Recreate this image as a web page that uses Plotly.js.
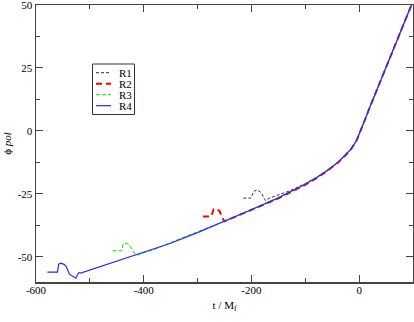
<!DOCTYPE html>
<html>
<head>
<meta charset="utf-8">
<script src="https://cdn.plot.ly/plotly-3.0.1.min.js"></script>
<style>
  body { margin: 0; background: #fff; }
  #plot { width: 414px; height: 322px; }
</style>
</head>
<body>
<div id="plot"></div>
<script>
// values
var seriesNames = ['R1', 'R2', 'R3', 'R4'];

var r1X = [-215, -201, -196, -190, -182, -178, -174, -167, -130, -100, -80, -60, -40, -25, -15, -5, 0, 5, 10, 20, 40, 60, 80, 100];
var r1Y = [-26.7, -26.7, -24.1, -23.4, -24.5, -26.0, -27.7, -26.7, -23.9, -20.9, -18.5, -15.7, -12.5, -9.6, -7.2, -3.9, -1.5, 1.2, 4.0, 9.5, 20, 30.5, 41, 51.5];

var r2X = [-290, -275, -270, -264, -259, -254, -250, -200, -150, -100, -80, -60, -40, -25, -15, -5, 0, 5, 10, 20, 40, 60, 80, 100];
var r2Y = [-34, -34, -31.1, -31.1, -31.9, -34.6, -35.9, -31.4, -26.8, -21.4, -18.9, -16.0, -12.7, -9.7, -7.2, -3.9, -1.5, 1.2, 4.0, 9.5, 20, 30.5, 41, 51.5];

var r3X = [-458, -441, -438, -433, -427, -421, -415, -412, -396, -378, -350, -300, -250, -200, -150, -100, -80, -60, -40, -25, -15, -5, 0, 5, 10, 20, 40, 60, 80, 100];
var r3Y = [-47.6, -47.6, -44.8, -44.6, -45.2, -47.3, -49.2, -49.3, -48.3, -46.9, -44.3, -40.2, -35.8, -31.1, -26.5, -21.1, -18.6, -15.8, -12.6, -9.6, -7.2, -3.9, -1.5, 1.2, 4.0, 9.5, 20, 30.5, 41, 51.5];

var r4X = [-579, -560, -558, -554, -548, -544, -538, -532, -526, -523, -520, -517, -500, -450, -400, -350, -300, -250, -200, -150, -100, -80, -60, -40, -25, -15, -5, 0, 5, 10, 20, 40, 60, 80, 100];
var r4Y = [-56.1, -56.1, -52.9, -52.5, -53.0, -53.8, -56.9, -57.8, -58.5, -57.1, -56.2, -56.5, -55.3, -51.8, -48.4, -44.6, -40.4, -36.0, -31.3, -26.6, -21.2, -18.7, -15.9, -12.6, -9.6, -7.2, -3.9, -1.5, 1.2, 4.0, 9.5, 20.0, 30.5, 41.0, 51.5];

var xTickVals = [-600, -400, -200, 0];
var xTickText = ['-600', '-400', '-200', '0'];
var yTickVals = [-50, -25, 0, 25, 50];
var yTickText = ['-50', '-25', '0', '25', '50'];

var fontFam = 'Liberation Serif';
var lineStyles = [
  { color: '#333333', width: 1, dash: '3px,2px' },
  { color: 'rgb(255,0,0)', width: 2, dash: '6px,4px' },
  { color: 'rgb(0,230,0)', width: 1, dash: '4px,2px' },
  { color: 'rgb(40,40,255)', width: 1.2 }
];

var xs = [r1X, r2X, r3X, r4X];
var ys = [r1Y, r2Y, r3Y, r4Y];
var data = seriesNames.map(function (n, i) {
  return { x: xs[i], y: ys[i], mode: 'lines', name: n, line: lineStyles[i] };
});

// plot-area geometry, used to place the hand-drawn legend box
var W = 414, H = 322, M = { l: 36, r: 1, t: 5, b: 40 };
var pw = W - M.l - M.r, ph = H - M.t - M.b;
function px(x) { return (x - M.l) / pw; }
function py(y) { return 1 - (y - M.t) / ph; }

var shapes = [{
  type: 'rect', xref: 'paper', yref: 'paper',
  x0: px(92.5), x1: px(134.5), y0: py(64), y1: py(114.5),
  line: { color: '#333', width: 1 }, fillcolor: '#fff', layer: 'above'
}];
var annotations = [];
var rowY = [72.7, 83.7, 94.7, 105.7];
seriesNames.forEach(function (n, i) {
  var st = lineStyles[i];
  shapes.push({
    type: 'line', xref: 'paper', yref: 'paper',
    x0: px(96), x1: px(111), y0: py(rowY[i]), y1: py(rowY[i]),
    line: { color: st.color, width: st.width, dash: st.dash || 'solid' }, layer: 'above'
  });
  annotations.push({
    xref: 'paper', yref: 'paper', x: px(117), y: py(rowY[i]),
    xanchor: 'left', yanchor: 'middle', showarrow: false, text: n,
    font: { family: fontFam, size: 11, color: '#000' }
  });
});

var axisCommon = {
  showgrid: false,
  zeroline: false,
  showline: true,
  linecolor: '#444',
  linewidth: 1.5,
  mirror: 'allticks',
  ticks: 'inside',
  ticklen: 7,
  tickwidth: 1,
  tickcolor: '#444',
  ticklabeloverflow: 'allow',
  tickmode: 'array'
};

var layout = {
  width: W,
  height: H,
  margin: M,
  paper_bgcolor: '#fff',
  plot_bgcolor: '#fff',
  font: { family: fontFam, size: 11, color: '#000' },
  showlegend: false,
  shapes: shapes,
  annotations: annotations,
  xaxis: Object.assign({}, axisCommon, {
    range: [-600, 100],
    tickvals: xTickVals, ticktext: xTickText,
    tickfont: { family: fontFam, size: 11, color: '#000' },
    ticklabelstandoff: -3,
    minor: { dtick: 100, ticks: 'inside', ticklen: 4, tickcolor: '#444' },
    title: { text: 't / M<sub>f</sub>', font: { family: fontFam, size: 11, color: '#000' }, standoff: 6 }
  }),
  yaxis: Object.assign({}, axisCommon, {
    range: [-60, 50],
    tickvals: yTickVals, ticktext: yTickText,
    tickfont: { family: fontFam, size: 11, color: '#000' },
    minor: { dtick: 12.5, ticks: 'inside', ticklen: 4, tickcolor: '#444' },
    title: { text: '\u03d5 <i>pol</i>', font: { family: fontFam, size: 11, color: '#000' }, standoff: 4 }
  })
};

Plotly.newPlot('plot', data, layout, { displayModeBar: false, staticPlot: true });
</script>
</body>
</html>
